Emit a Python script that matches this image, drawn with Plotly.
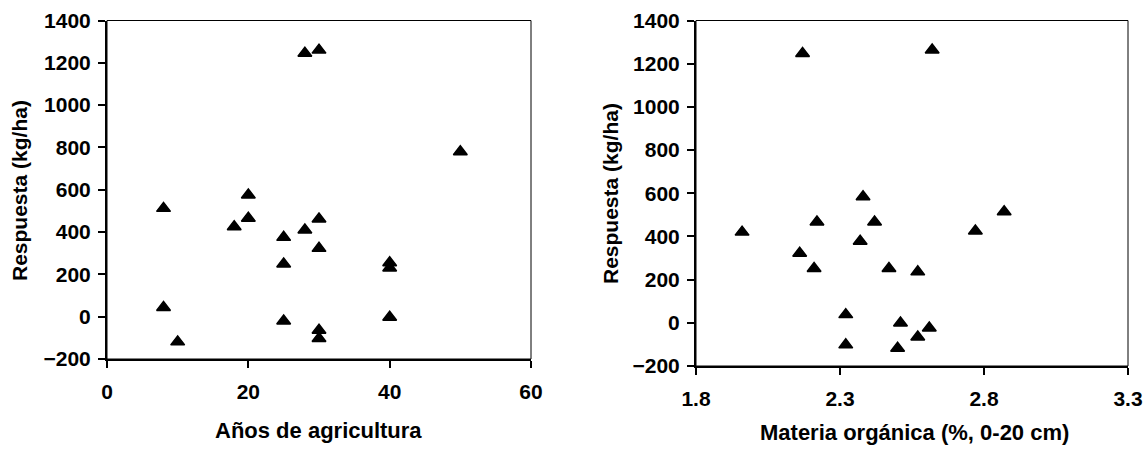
import plotly.graph_objects as go

# Left panel: years of agriculture vs response
anos = [28, 30, 50, 8, 20, 20, 18, 25, 28, 30, 30, 25, 40, 40, 8, 10, 25, 30, 30, 40]
resp_anos = [1245, 1260, 780, 512, 575, 465, 425, 375, 410, 462, 323, 249, 255, 230, 44, -119, -20, -64, -103, -3]

# Right panel: organic matter vs response
mo = [2.17, 2.62, 1.96, 2.38, 2.22, 2.42, 2.37, 2.16, 2.21, 2.47, 2.57, 2.87, 2.77, 2.32, 2.32, 2.51, 2.57, 2.61, 2.50]
resp_mo = [1247, 1263, 420, 584, 467, 467, 378, 322, 252, 252, 236, 514, 425, 38, -102, -1, -66, -24, -118]

x1_ticks = [0, 20, 40, 60]
x2_ticks = [1.8, 2.3, 2.8, 3.3]
y_ticks = [-200, 0, 200, 400, 600, 800, 1000, 1200, 1400]

W, H = 1145, 451
FONT = "Liberation Sans"

def px(x):
    return x / W

def py(y):
    return 1 - y / H

fig = go.Figure()

marker = dict(symbol="triangle-up", size=12, color="black", line=dict(color="black", width=1.5))
fig.add_trace(go.Scatter(x=anos, y=resp_anos, mode="markers", marker=marker, xaxis="x", yaxis="y", showlegend=False))
fig.add_trace(go.Scatter(x=mo, y=resp_mo, mode="markers", marker=marker, xaxis="x2", yaxis="y2", showlegend=False))

tickfont = dict(family=FONT, size=21, color="black", weight="bold")

common_x = dict(showgrid=False, zeroline=False, showline=True, linecolor="black", linewidth=2,
                ticks="outside", ticklen=7, tickwidth=1.5, tickcolor="black", tickfont=tickfont,
                ticklabelstandoff=6)
common_y = dict(showgrid=False, zeroline=False, showline=True, linecolor="black", linewidth=2,
                ticks="outside", ticklen=7, tickwidth=1.5, tickcolor="black", tickfont=tickfont,
                range=[-200, 1400], tickvals=y_ticks, ticklabelstandoff=3)

fig.update_layout(
    width=W, height=H,
    margin=dict(l=0, r=0, t=0, b=0, autoexpand=False),
    paper_bgcolor="white", plot_bgcolor="white",
    xaxis=dict(domain=[px(107), px(531)], range=[0, 60], tickvals=x1_ticks, anchor="y", **common_x),
    yaxis=dict(domain=[py(359), py(20.5)], anchor="x", **common_y),
    xaxis2=dict(domain=[px(696), px(1128)], range=[1.8, 3.3], tickvals=x2_ticks, tickformat=".1f", anchor="y2", **common_x),
    yaxis2=dict(domain=[py(366), py(20.5)], anchor="x2", **common_y),
)

# thin box on top/right
for xr, yr in (("x", "y"), ("x2", "y2")):
    fig.add_shape(type="rect", xref=f"{xr} domain", yref=f"{yr} domain", x0=0, x1=1, y0=0, y1=1,
                  line=dict(color="black", width=1), layer="below")

xtitlefont = dict(family=FONT, size=22, color="black", weight="bold")
ytitlefont = dict(family=FONT, size=21, color="black", weight="bold")
fig.add_annotation(text="Años de agricultura", x=px(318), y=py(430), xref="paper", yref="paper",
                   showarrow=False, font=xtitlefont, xanchor="center", yanchor="middle")
fig.add_annotation(text="Materia orgánica (%, 0-20 cm)", x=px(914), y=py(432), xref="paper", yref="paper",
                   showarrow=False, font=xtitlefont, xanchor="center", yanchor="middle")
fig.add_annotation(text="Respuesta (kg/ha)", x=px(19), y=py(191), xref="paper", yref="paper",
                   showarrow=False, font=ytitlefont, textangle=-90, xanchor="center", yanchor="middle")
fig.add_annotation(text="Respuesta (kg/ha)", x=px(610), y=py(194), xref="paper", yref="paper",
                   showarrow=False, font=ytitlefont, textangle=-90, xanchor="center", yanchor="middle")

fig.write_html("out.html", config={"displayModeBar": False},
               post_script="document.body.style.margin='0';document.body.style.overflow='hidden';")
